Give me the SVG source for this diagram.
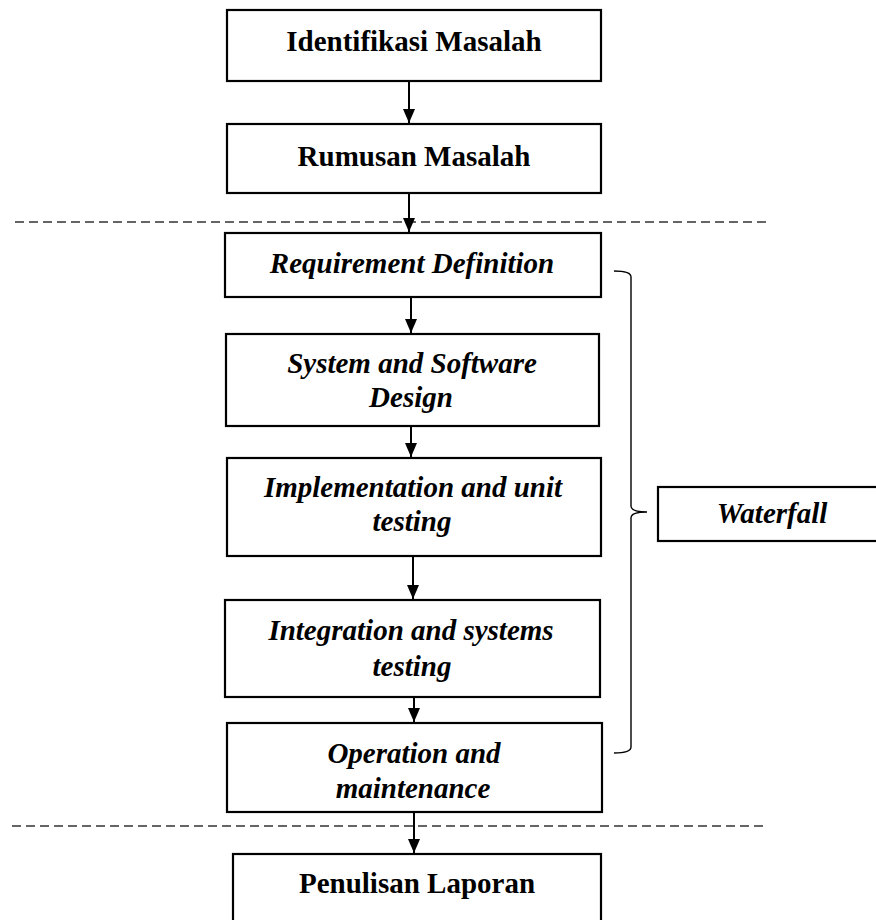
<svg xmlns="http://www.w3.org/2000/svg" width="876" height="920" viewBox="0 0 876 920">
<style>
.box{fill:#fff;stroke:#000;stroke-width:2.2}
.t{font-family:"Liberation Serif","Times New Roman",serif;font-size:29px;font-weight:bold;fill:#000;text-anchor:middle}
.it{font-style:italic}
.arr{stroke:#000;stroke-width:2;fill:none;marker-end:url(#ah)}
.dash{stroke:#333;stroke-width:1.5;stroke-dasharray:9 5;fill:none}
.br{stroke:#000;stroke-width:1.4;fill:none}
</style>
<defs>
<marker id="ah" markerUnits="userSpaceOnUse" markerWidth="14" markerHeight="12" refX="14" refY="6" orient="auto">
<path d="M0,0 L14,6 L0,12 z" fill="#000"/>
</marker>
</defs>
<rect width="876" height="920" fill="#fff"/>
<g id="guides">
<line class="dash" x1="15" y1="222" x2="771" y2="222"/>
<line class="dash" x1="12" y1="826" x2="768" y2="826"/>
</g>
<g id="n1"><rect class="box" x="227" y="10" width="374" height="71"/><text class="t" x="414" y="51">Identifikasi Masalah</text></g>
<g id="n2"><rect class="box" x="227" y="124" width="374" height="69"/><text class="t" x="414" y="166">Rumusan Masalah</text></g>
<g id="n3"><rect class="box" x="225" y="233" width="376" height="64"/><text class="t it" x="412" y="273">Requirement Definition</text></g>
<g id="n4"><rect class="box" x="226" y="334" width="373" height="92"/><text class="t it" x="412" y="373">System and Software</text><text class="t it" x="411" y="407">Design</text></g>
<g id="n5"><rect class="box" x="227" y="458" width="374" height="98"/><text class="t it" x="413" y="497">Implementation and unit</text><text class="t it" x="412" y="531">testing</text></g>
<g id="n6"><rect class="box" x="225" y="600" width="375" height="97"/><text class="t it" x="411" y="640">Integration and systems</text><text class="t it" x="412" y="676">testing</text></g>
<g id="n7"><rect class="box" x="227" y="723" width="375" height="89"/><text class="t it" x="414" y="763">Operation and</text><text class="t it" x="413" y="798">maintenance</text></g>
<g id="n8"><rect class="box" x="233" y="854" width="368" height="80"/><text class="t" x="417" y="893">Penulisan Laporan</text></g>
<g id="n9"><rect class="box" x="658" y="487" width="224" height="54"/><text class="t it" x="772" y="523">Waterfall</text></g>
<g id="connectors">
<line class="arr" x1="409" y1="81" x2="409" y2="123"/>
<line class="arr" x1="409" y1="193" x2="409" y2="232"/>
<line class="arr" x1="411" y1="297" x2="411" y2="333"/>
<line class="arr" x1="411" y1="426" x2="411" y2="457"/>
<line class="arr" x1="413" y1="556" x2="413" y2="599"/>
<line class="arr" x1="414" y1="697" x2="414" y2="722"/>
<line class="arr" x1="414" y1="812" x2="414" y2="853"/>
<path class="br" d="M614,271 Q631,271 631,277 L631,506 Q631,512 647,512 Q631,512 631,518 L631,747 Q631,753 614,753"/>
</g>
</svg>
